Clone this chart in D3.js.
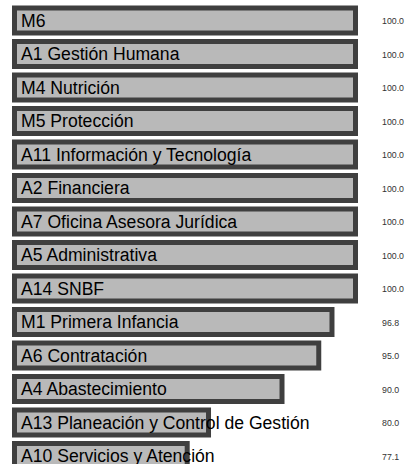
<!DOCTYPE html>
<html>
<head>
<meta charset="utf-8">
<script src="https://cdn.jsdelivr.net/npm/d3@7"></script>
<style>
  body { margin: 0; background: #fff; }
  svg { display: block; }
</style>
</head>
<body>
<div id="chart"></div>
<script>
// Data
const areas = [
  "M6", "A1 Gestión Humana", "M4 Nutrición", "M5 Protección",
  "A11 Información y Tecnología", "A2 Financiera", "A7 Oficina Asesora Jurídica",
  "A5 Administrativa", "A14 SNBF", "M1 Primera Infancia", "A6 Contratación",
  "A4 Abastecimiento", "A13 Planeación y Control de Gestión", "A10 Servicios y Atención"
];
const scores = [100, 100, 100, 100, 100, 100, 100, 100, 100, 96.8, 95.0, 90.0, 80.0, 77.1];

const data = areas.map((a, i) => ({area: a, score: scores[i]}));

// Constants
const width = 407;
const height = 464;
const barLeft = 14.5;
const pitch = 33.5;
const barH = 25;
const fontFamily = "'Liberation Sans', Arial, Helvetica, sans-serif";

const svg = d3.select("#chart")
  .append("svg")
    .attr("width", width)
    .attr("height", height);

// Scales
const xScale = d3.scaleLinear()
  .domain([53.6, 100])
  .range([0, 341]);

const yScale = d3.scaleBand()
  .domain(areas)
  .range([8, 8 + pitch * areas.length])
  .paddingInner(0);

// Bars
svg.selectAll("rect.bar")
  .data(data)
  .join("rect")
    .attr("class", "bar")
    .attr("x", barLeft)
    .attr("y", d => yScale(d.area))
    .attr("width", d => xScale(d.score))
    .attr("height", barH)
    .attr("fill", "#b9b9b9")
    .attr("stroke", "#3f3f3f")
    .attr("stroke-width", 5);

// Category labels (drawn on top of the bars)
svg.selectAll("text.label")
  .data(data)
  .join("text")
    .attr("class", "label")
    .text(d => d.area)
    .attr("x", 21)
    .attr("y", d => yScale(d.area) + barH / 2 + 6)
    .style("font-family", fontFamily)
    .style("font-size", "17.6px")
    .attr("fill", "#000");

// Value labels
svg.selectAll("text.value")
  .data(data)
  .join("text")
    .attr("class", "value")
    .text(d => d.score.toFixed(1))
    .attr("x", 382)
    .attr("y", d => yScale(d.area) + barH / 2 + 3.5)
    .style("font-family", fontFamily)
    .style("font-size", "8.8px")
    .attr("fill", "#333");
</script>
</body>
</html>
